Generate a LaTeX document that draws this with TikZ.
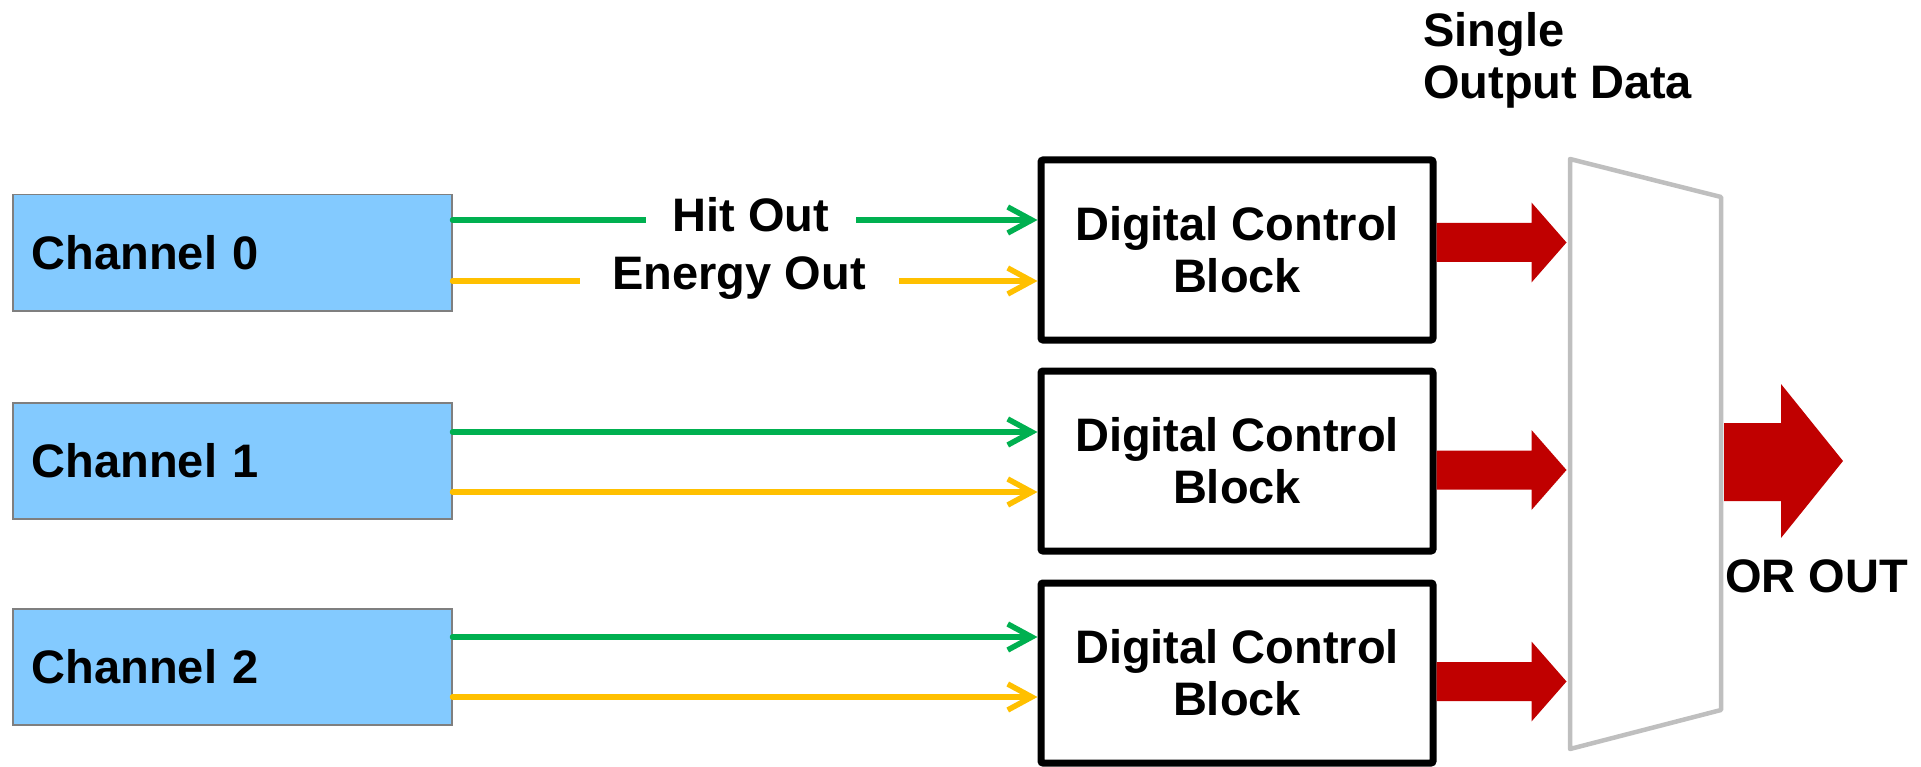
\documentclass[tikz,border=0pt]{standalone}
\usepackage{fontspec}
\setmainfont{Liberation Sans}
\usetikzlibrary{arrows.meta}
\definecolor{chanblue}{HTML}{83CAFF}
\definecolor{chanedge}{HTML}{7F7F7F}
\definecolor{hitgreen}{HTML}{00B050}
\definecolor{engyellow}{HTML}{FFC000}
\definecolor{outred}{HTML}{C00000}
\definecolor{muxgray}{HTML}{BFBFBF}
\newcommand{\blockfont}{\bfseries\fontsize{47}{52}\selectfont}
\tikzset{
  chan/.style={draw=chanedge,fill=chanblue,line width=1.5pt,anchor=north west,
    minimum height=116pt,text width=401pt,inner xsep=19pt,align=left},
  dcb/.style={draw=black,line width=7pt,rounded corners=2pt,
    minimum width=392pt,minimum height=180pt,align=center},
  hitline/.style={draw=hitgreen,line width=5.5pt,line cap=round,
    -{Straight Barb[length=24pt,width=26pt]}},
  engline/.style={draw=engyellow,line width=5.5pt,line cap=round,
    -{Straight Barb[length=24pt,width=26pt]}},
  gaplbl/.style={fill=white,inner ysep=2pt,text height=34pt,text depth=0pt},
  redarrow/.style={fill=outred}
}
\begin{document}
\begin{tikzpicture}[x=1pt,y=-1pt,font=\blockfont]
\useasboundingbox (0,0) rectangle (1921,767);
% channels
\node[chan] (ch0) at (12,194) {Channel 0};
\node[chan] (ch1) at (12,402) {Channel 1};
\node[chan] (ch2) at (12,608) {Channel 2};
% digital control blocks
\node[dcb] (dcb0) at (1237,250) {Digital Control\\Block};
\node[dcb] (dcb1) at (1237,461) {Digital Control\\Block};
\node[dcb] (dcb2) at (1237,673) {Digital Control\\Block};
% hit and energy lines
\draw[hitline] (ch0.east |- 0,220) -- (dcb0.west |- 0,220)
  node[gaplbl,pos=0.51,yshift=5pt,inner xsep=27pt] (hitlbl) {Hit Out};
\draw[engline] (ch0.east |- 0,281) -- (dcb0.west |- 0,281)
  node[gaplbl,pos=0.49,yshift=8pt,inner xsep=33pt] (englbl) {Energy Out};
\foreach \i/\gy/\ey in {1/432/492,2/637/697} {
  \draw[hitline] (ch\i.east |- 0,\gy) -- (dcb\i.west |- 0,\gy);
  \draw[engline] (ch\i.east |- 0,\ey) -- (dcb\i.west |- 0,\ey);
}
% mux
\draw[muxgray,line width=4.5pt,line join=round] (1570,159) coordinate (muxtl)
  -- (1721,197) coordinate (muxtr) -- (1721,710) coordinate (muxbr)
  -- (1570,749) coordinate (muxbl) -- cycle;
% block outputs
\foreach \i/\ay in {0/242.5,1/470,2/681.5}
  \fill[redarrow] (dcb\i.east |- 0,\ay) ++(0,-19.5) -- ++(95,0) -- ++(0,-20.5)
    -- ++(35,40) -- ++(-35,40) -- ++(0,-20.5) -- ++(-95,0) -- cycle;
\fill[redarrow] (muxtr |- 0,423) ++(3,0) -- (1781,423) -- (1781,384) -- (1843,461)
  -- (1781,538) -- (1781,501) -- (1724,501) -- cycle;
% labels
\node[anchor=north west,align=left,inner sep=0pt] (sodata) at (1423,12) {Single\\Output Data};
\node[anchor=base west,inner sep=0pt] (orout) at (1725,592) {OR OUT};
\end{tikzpicture}
\end{document}
